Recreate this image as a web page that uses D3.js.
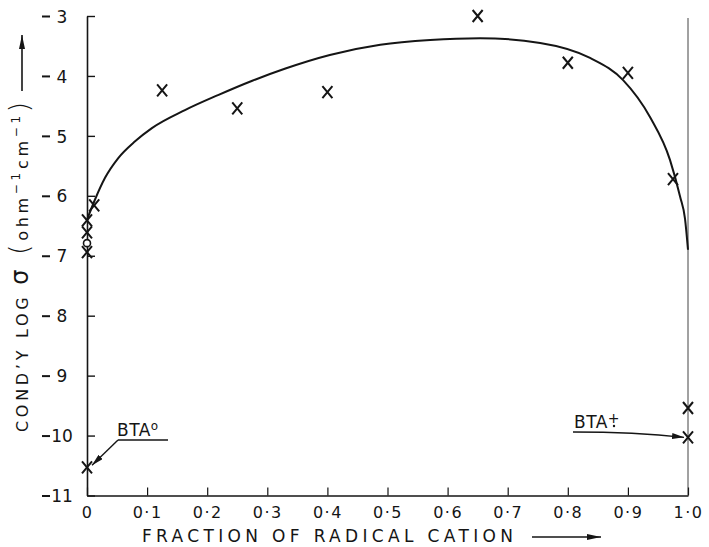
<!DOCTYPE html>
<html><head><meta charset="utf-8">
<script src="https://cdn.jsdelivr.net/npm/d3@7"></script>
<style>body{margin:0;background:#fff}svg{display:block}</style>
</head><body>
<svg id="c" width="709" height="547"></svg>
<script>
// ---- data ----
const yTicks = [-3, -4, -5, -6, -7, -8, -9, -10, -11];
const yTickLabels = ["3", "4", "5", "6", "7", "8", "9", "10", "11"];
const xTicks = [0, 0.1, 0.2, 0.3, 0.4, 0.5, 0.6, 0.7, 0.8, 0.9, 1.0];
const xTickLabels = ["0", "0·1", "0·2", "0·3", "0·4", "0·5", "0·6", "0·7", "0·8", "0·9", "1·0"];
// smooth curve drawn through the data
const curveX = [0, 0.013, 0.03, 0.052, 0.08, 0.108, 0.163, 0.218, 0.275, 0.329, 0.404, 0.488, 0.571, 0.654, 0.754, 0.837, 0.892, 0.937, 0.97, 0.987, 0.995, 1.0];
const curveY = [-6.40, -6.07, -5.70, -5.37, -5.09, -4.87, -4.57, -4.32, -4.08, -3.88, -3.65, -3.48, -3.40, -3.37, -3.45, -3.70, -4.07, -4.69, -5.40, -6.02, -6.38, -6.9];
// measured points (x marks)
const markX = [0.65, 0.80, 0.90, 0.125, 0.25, 0.40, 0.975, 0.012, 0, 0, 0, 0, 1.0, 1.0];
const markY = [-3.0, -3.78, -3.95, -4.24, -4.54, -4.27, -5.72, -6.16, -6.41, -6.61, -6.94, -10.53, -9.54, -10.03];
// open circle point
const circX = [0];
const circY = [-6.79];

// ---- chart ----
const svg = d3.select("#c");
const x = d3.scaleLinear().domain([0, 1]).range([87, 688]);
const y = d3.scaleLinear().domain([-11, -3]).range([495.5, 16]);
const ink = "#151515";
const font = "'DejaVu Sans', sans-serif";

const defs = svg.append("defs");
defs.append("marker").attr("id", "ah").attr("viewBox", "0 0 12 6")
  .attr("refX", 12).attr("refY", 3).attr("markerWidth", 12).attr("markerHeight", 6)
  .attr("markerUnits", "userSpaceOnUse").attr("orient", "auto")
  .append("path").attr("d", "M0,0 L12,3 L0,6 Z").attr("fill", ink);
defs.append("marker").attr("id", "ahBig").attr("viewBox", "0 0 14 6")
  .attr("refX", 14).attr("refY", 3).attr("markerWidth", 14).attr("markerHeight", 6)
  .attr("markerUnits", "userSpaceOnUse").attr("orient", "auto")
  .append("path").attr("d", "M0,0 L14,3 L0,6 Z").attr("fill", ink);

// right vertical line at x = 1.0
svg.append("line").attr("x1", x(1)).attr("x2", x(1)).attr("y1", y(-3) + 2).attr("y2", y(-11))
  .attr("stroke", "#444").attr("stroke-width", 1);

// left axis
const gy = svg.append("g").attr("transform", `translate(${x(0)},0)`)
  .call(d3.axisLeft(y).tickValues(yTicks).tickSizeInner(-8).tickSizeOuter(0)
    .tickFormat((d, i) => yTickLabels[i]));
gy.select(".domain").attr("stroke", ink).attr("stroke-width", 1.6);
gy.selectAll(".tick line").attr("stroke", ink).attr("stroke-width", 1.4);
gy.selectAll(".tick text").attr("x", -25).attr("text-anchor", "middle")
  .attr("font-family", font).attr("font-size", 17).attr("fill", ink).attr("dy", "0.36em");
gy.selectAll(".tick").append("line").attr("x1", -45).attr("x2", -37).attr("y1", 0).attr("y2", 0)
  .attr("stroke", ink).attr("stroke-width", 2);

// bottom axis
const gx = svg.append("g").attr("transform", `translate(0,${y(-11)})`)
  .call(d3.axisBottom(x).tickValues(xTicks).tickSizeInner(-8).tickSizeOuter(0)
    .tickFormat((d, i) => xTickLabels[i]));
gx.select(".domain").attr("stroke", ink).attr("stroke-width", 1.6);
gx.selectAll(".tick line").attr("stroke", ink).attr("stroke-width", 1.2);
gx.selectAll(".tick text").attr("y", 22).attr("dy", 0)
  .attr("font-family", font).attr("font-size", 16).attr("fill", ink).attr("letter-spacing", 1.5);

// curve
const pts = curveX.map((v, i) => [v, curveY[i]]);
svg.append("path").datum(pts)
  .attr("d", d3.line().x(d => x(d[0])).y(d => y(d[1])).curve(d3.curveMonotoneX))
  .attr("fill", "none").attr("stroke", ink).attr("stroke-width", 2);

// X markers
const marks = markX.map((v, i) => [v, markY[i]]);
svg.append("g").selectAll("path").data(marks).join("path")
  .attr("transform", d => `translate(${x(d[0])},${y(d[1])})`)
  .attr("d", "M-5,-6 L5,6 M5,-6 L-5,6")
  .attr("stroke", ink).attr("stroke-width", 2).attr("fill", "none");

// open circle
svg.append("g").selectAll("circle").data(circX.map((v, i) => [v, circY[i]])).join("circle")
  .attr("cx", d => x(d[0])).attr("cy", d => y(d[1])).attr("r", 3.5)
  .attr("fill", "#fff").attr("stroke", ink).attr("stroke-width", 1.6);

// BTA° annotation
const bt0 = svg.append("text").attr("x", 117).attr("y", 436)
  .attr("font-family", font).attr("font-size", 17).attr("fill", ink).attr("letter-spacing", 0.5);
bt0.append("tspan").text("BTA");
bt0.append("tspan").attr("dy", -6).attr("font-size", 12).text("o");
svg.append("line").attr("x1", 118).attr("y1", 440).attr("x2", 168).attr("y2", 440)
  .attr("stroke", ink).attr("stroke-width", 1.4);
svg.append("line").attr("x1", 118).attr("y1", 440).attr("x2", x(0) + 5).attr("y2", y(-10.53) - 2)
  .attr("stroke", ink).attr("stroke-width", 1.4).attr("marker-end", "url(#ah)");

// BTA+· annotation
const bt1 = svg.append("text").attr("x", 574).attr("y", 428)
  .attr("font-family", font).attr("font-size", 17).attr("fill", ink).attr("letter-spacing", 0.5);
bt1.append("tspan").text("BTA");
bt1.append("tspan").attr("dy", -5).attr("font-size", 14).text("+");
svg.append("circle").attr("cx", 614).attr("cy", 426).attr("r", 1.2).attr("fill", ink);
svg.append("path").attr("d", `M573,432 Q635,432 ${x(1) - 4},${y(-10.03)}`)
  .attr("fill", "none").attr("stroke", ink).attr("stroke-width", 1.4).attr("marker-end", "url(#ah)");

// y-axis title
const yt = svg.append("text").attr("transform", "translate(28,267) rotate(-90)")
  .attr("text-anchor", "middle").attr("font-family", font).attr("font-size", 16).attr("fill", ink)
  .attr("textLength", 330).attr("lengthAdjust", "spacing");
yt.append("tspan").text("COND’Y LOG ");
yt.append("tspan").attr("font-size", 24).text("σ ");
yt.append("tspan").attr("font-size", 26).attr("font-weight", 200).text("(");
yt.append("tspan").text("ohm");
yt.append("tspan").attr("dy", -8).attr("font-size", 12).text("−1");
yt.append("tspan").attr("dy", 8).text("cm");
yt.append("tspan").attr("dy", -8).attr("font-size", 12).text("−1");
yt.append("tspan").attr("dy", 8).attr("font-size", 26).attr("font-weight", 200).text(")");
svg.append("line").attr("x1", 22).attr("x2", 22).attr("y1", 91).attr("y2", 35)
  .attr("stroke", ink).attr("stroke-width", 1.6).attr("marker-end", "url(#ahBig)");

// x-axis title
svg.append("text").attr("x", 142).attr("y", 542)
  .attr("font-family", font).attr("font-size", 17).attr("fill", ink)
  .attr("textLength", 371).attr("lengthAdjust", "spacing")
  .text("FRACTION OF RADICAL CATION");
svg.append("line").attr("x1", 532).attr("x2", 601).attr("y1", 537).attr("y2", 537)
  .attr("stroke", ink).attr("stroke-width", 1.4).attr("marker-end", "url(#ahBig)");
</script>
</body></html>
